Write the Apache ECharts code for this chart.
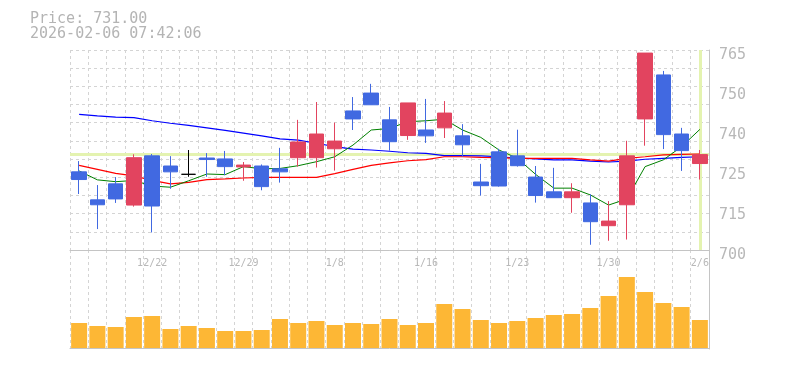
<!DOCTYPE html>
<html>
<head>
<meta charset="utf-8">
<script src="https://cdn.jsdelivr.net/npm/echarts@6/dist/echarts.min.js"></script>
<style>
html,body{margin:0;padding:0;background:#fff;}
#chart{width:785px;height:370px;}
</style>
</head>
<body>
<div id="chart"></div>
<script>
// ---- data ----
const dates = ['12/16','12/17','12/18','12/19','12/22','12/23','12/24','12/25','12/26','12/29','12/30',
  '1/5','1/6','1/7','1/8','1/9','1/13','1/14','1/15','1/16','1/19','1/20','1/21','1/22','1/23',
  '1/26','1/27','1/28','1/29','1/30','2/2','2/3','2/4','2/5','2/6'];
const opens  = [725.4,716.3,721.5,714.6,730.6,727.3,724.6,729.9,729.6,727.0,727.3,
  726.4,730.0,730.0,732.9,745.2,751.0,742.3,737.2,739.0,739.7,737.1,722.1,731.9,730.6,
  723.7,718.9,717.0,715.3,707.9,714.7,742.6,756.9,737.7,728.1];
const closes = [722.9,714.7,716.6,730.0,714.3,725.4,724.6,729.4,727.1,727.6,720.6,
  725.4,735.1,737.7,735.4,742.6,747.2,735.2,747.8,737.1,744.5,734.2,720.9,720.8,727.4,
  717.7,717.0,718.9,709.2,709.4,730.6,764.0,737.5,732.3,731.0];
const lows   = [718.2,706.8,715.3,714.1,705.7,719.9,723.8,723.8,724.3,722.5,719.4,
  721.9,727.1,726.8,725.8,739.0,747.2,732.3,735.8,734.8,736.4,730.3,717.7,720.6,727.1,
  715.4,717.0,712.1,701.7,703.0,703.4,733.9,732.8,725.7,722.9];
const highs  = [728.9,721.1,723.7,731.1,731.2,730.5,732.5,731.5,732.2,728.6,727.8,
  733.2,742.3,748.1,741.4,749.7,754.0,746.5,747.8,749.1,748.4,740.9,728.0,732.9,739.1,
  727.3,726.7,721.7,718.1,715.9,735.5,764.0,758.2,739.7,732.5];
const ma5  = [725.7,722.8,722.2,722.6,720.8,720.4,722.5,724.7,724.5,727.1,726.4,
  726.5,727.4,728.7,730.3,734.1,739.0,739.5,741.7,742.0,742.5,739.0,736.6,732.5,729.8,
  724.6,720.1,720.1,717.9,714.6,716.6,727.1,729.3,733.6,739.2];
const ma25 = [727.5,726.2,724.9,724.1,722.6,721.5,722.0,722.9,723.1,723.4,723.6,
  723.6,723.6,723.6,724.8,726.2,727.5,728.3,729.0,729.4,730.3,730.3,730.1,730.0,729.8,
  729.8,729.8,729.8,729.3,728.9,729.8,730.3,730.9,731.1,731.2];
const ma75 = [744.1,743.6,743.2,743.0,742.0,741.2,740.5,739.7,738.9,738.0,737.1,
  736.1,735.7,734.7,733.6,732.8,732.5,732.1,731.6,731.4,730.7,730.7,730.6,730.3,729.9,
  729.6,729.3,729.3,728.9,728.6,728.9,729.5,729.8,730.1,730.3];
const volumes = [25,22,21,31,32,19,22,20,17,17,18,29,25,27,23,25,24,29,23,25,
  44,39,28,25,27,30,33,34,40,52,71,56,45,41,28];
const yTickLabels = ['700','715','725','740','750','765'];
const xTickLabels = ['12/22','12/29','1/8','1/16','1/23','1/30','2/6'];
const lastPrice = 731.00;
const lastDate = '2/6';
const titleLines = ['Price: 731.00', '2026-02-06 07:42:06'];

// ---- chart ----
const ohlc = dates.map((d, i) => [opens[i], closes[i], lows[i], highs[i]]);
const mono = '"DejaVu Sans Mono", "Liberation Mono", monospace';
const gridLine = { show: true, lineStyle: { color: '#d4d4d4', type: [3, 3], width: 1 } };
const axisCol = '#c4c4c4';
const chart = echarts.init(document.getElementById('chart'), null, { renderer: 'canvas' });
chart.setOption({
  animation: false,
  backgroundColor: '#fff',
  title: {
    text: titleLines.join('\n'),
    left: 30, top: 12, padding: 0,
    textStyle: { fontFamily: mono, fontSize: 15, fontWeight: 'normal', color: '#b4b4b4', lineHeight: 15 }
  },
  grid: [
    { left: 70, top: 50, width: 639, height: 200 },
    { left: 70, top: 250, width: 639, height: 99 }
  ],
  xAxis: [
    {
      type: 'category', gridIndex: 0, data: dates, boundaryGap: true,
      axisLine: { show: true, lineStyle: { color: axisCol, width: 1 } },
      axisTick: { show: false },
      axisLabel: {
        show: true, margin: 8, fontFamily: mono, fontSize: 10, color: '#b8b8b8',
        interval: (i, v) => xTickLabels.includes(v)
      },
      splitLine: Object.assign({ interval: 0 }, gridLine)
    },
    {
      type: 'category', gridIndex: 1, data: dates, boundaryGap: true,
      axisLine: { show: true, lineStyle: { color: axisCol, width: 1 } },
      axisTick: { show: false },
      axisLabel: { show: false },
      splitLine: Object.assign({ interval: 0 }, gridLine)
    }
  ],
  yAxis: [
    { type: 'value', gridIndex: 0, min: 700, max: 765, show: false },
    {
      type: 'value', gridIndex: 0, min: 0, max: 11, interval: 1, position: 'left',
      axisLine: { show: false }, axisTick: { show: false }, axisLabel: { show: false },
      splitLine: gridLine
    },
    {
      type: 'value', gridIndex: 0, min: 0, max: 5, interval: 1, position: 'right',
      axisLine: { show: true, lineStyle: { color: axisCol, width: 1 } },
      axisTick: { show: false },
      splitLine: { show: false },
      axisLabel: {
        show: true, margin: 10, fontFamily: mono, fontSize: 15, color: '#b8b8b8',
        verticalAlign: 'top', lineHeight: 10, padding: 0,
        formatter: v => yTickLabels[v]
      }
    },
    {
      type: 'value', gridIndex: 1, min: -1, max: 98, position: 'right',
      axisLine: { show: true, lineStyle: { color: axisCol, width: 1 } },
      axisTick: { show: false }, axisLabel: { show: false }, splitLine: { show: false }
    }
  ],
  series: [
    {
      name: 'cursor', type: 'line', xAxisIndex: 0, yAxisIndex: 0, data: closes,
      showSymbol: false, symbol: 'none', lineStyle: { opacity: 0, width: 0 }, z: 1, silent: true,
      markLine: {
        z: 1, silent: true, symbol: ['none', 'none'],
        label: { show: false },
        lineStyle: { color: '#e4f3b0', width: 3, type: 'solid' },
        emphasis: { disabled: true },
        data: [{ yAxis: lastPrice }, { xAxis: lastDate }]
      }
    },
    { name: 'MA75', type: 'line', xAxisIndex: 0, yAxisIndex: 0, data: ma75, symbol: 'none',
      lineStyle: { color: '#0000ff', width: 1.2 }, z: 2 },
    { name: 'MA25', type: 'line', xAxisIndex: 0, yAxisIndex: 0, data: ma25, symbol: 'none',
      lineStyle: { color: '#ff0000', width: 1.2 }, z: 2 },
    { name: 'MA5', type: 'line', xAxisIndex: 0, yAxisIndex: 0, data: ma5, symbol: 'none',
      lineStyle: { color: '#008000', width: 1 }, z: 2 },
    {
      name: 'price', type: 'candlestick', xAxisIndex: 0, yAxisIndex: 0, data: ohlc,
      barWidth: 15, z: 3,
      itemStyle: {
        color: '#e2445f', color0: '#4169e1',
        borderColor: '#e2445f', borderColor0: '#4169e1', borderColorDoji: '#000000',
        borderWidth: 1
      }
    },
    {
      name: 'volume', type: 'bar', xAxisIndex: 1, yAxisIndex: 3, data: volumes,
      barWidth: 16, itemStyle: { color: '#fdb735' }
    }
  ]
});
</script>
</body>
</html>
